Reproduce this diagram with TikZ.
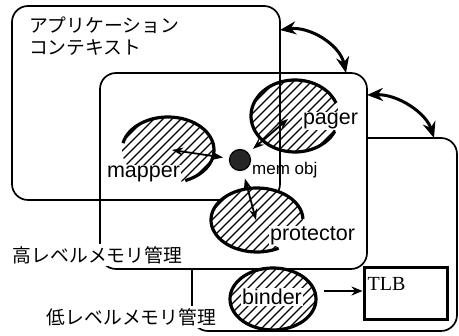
\documentclass[tikz,border=0pt]{standalone}
\usepackage{fontspec}
\setmainfont{Liberation Sans}
\newfontfamily\jpfont{Noto Sans CJK JP}
\newfontfamily\tlbfont{Liberation Serif}
\usetikzlibrary{arrows.meta}

% hatched interior of an elliptic module: centre, x radius, y radius
\newcommand\hatchblob[3]{%
  \begin{scope}
    \clip (#1) ellipse[x radius=#2, y radius=#3];
    \foreach \k in {-135,-126,...,135}
      \draw[hatchline] ([shift={(\k-70,70)}]#1) -- ([shift={(\k+70,-70)}]#1);
  \end{scope}}

\begin{document}
\begin{tikzpicture}[x=1pt,y=-1pt,
  frame/.style={draw, line width=1.7pt, rounded corners=16pt, inner sep=0pt, outer sep=0pt},
  blob/.style={line width=3.2pt},
  hatchline/.style={line width=1.2pt},
  link/.style={line width=1.8pt, {Stealth[length=11pt,width=8pt]}-{Stealth[length=11pt,width=8pt]}},
  swap/.style={line width=3pt, {Stealth[length=16pt,width=13pt]}-{Stealth[length=16pt,width=13pt]}},
  lbl/.style={font=\fontsize{21.5}{24}\selectfont, fill=white, inner sep=1pt},
  jp/.style={font=\jpfont\fontsize{18.8}{22}\selectfont},
]
\useasboundingbox (0,0) rectangle (459,336);

% the three nested contexts
\node[frame, fill=white, minimum width=265pt, minimum height=193pt] (ll) at (324.5,234.5) {};
\node[frame, fill=white, minimum width=267pt, minimum height=196pt] (hl) at (233.5,171) {};
\node[frame, minimum width=268pt, minimum height=194pt] (ctx) at (146,103) {};

% module centres
\coordinate (mapper) at (168,150);
\coordinate (pager) at (295,116);
\coordinate (protector) at (257,220);
\coordinate (binder) at (273,299);

% protector
\fill[white] (protector) ellipse[x radius=46, y radius=32];
\hatchblob{protector}{46}{32}
\draw[blob] (protector) ++(62:46 and 32) arc[start angle=62, end angle=358, x radius=46, y radius=32];

% binder
\fill[white] (binder) ellipse[x radius=43, y radius=31];
\hatchblob{binder}{43}{31}
\draw[blob] (binder) ellipse[x radius=43, y radius=31];

% mapper
\hatchblob{mapper}{46}{33}
\draw[blob] (mapper) ++(-168:46 and 33) arc[start angle=-168, end angle=68, x radius=46, y radius=33];

% pager
\hatchblob{pager}{44}{36}
\draw[blob] (pager) ++(25:44 and 36) arc[start angle=25, end angle=339, x radius=44, y radius=36];

% module names
\node[lbl, anchor=base] (mapL) at (143.5,178) {mapper};
\node[lbl, anchor=base] (pagL) at (330.5,124.5) {pager};
\node[lbl, anchor=base] (proL) at (312.5,241) {protector};
\node[lbl, anchor=base] (binL) at (272,305) {binder};

% context names
\node[jp, anchor=base west, inner sep=0pt] (ctxA) at (29,32.5) {アプリケーション};
\node[jp, anchor=base west, inner sep=0pt] (ctxB) at (29,55) {コンテキスト};
\node[jp, fill=white, inner sep=2.5pt] (hlL) at (97.5,255) {高レベルメモリ管理};
\node[jp, fill=white, inner sep=2.5pt] (llL) at (131.5,317) {低レベルメモリ管理};

% memory object and its links
\node[circle, draw, line width=1.2pt, fill=black!85, minimum size=21pt, inner sep=0pt] (mem) at (240,160) {};
\node[font=\fontsize{17}{19}\selectfont, anchor=base west, inner sep=0pt] (memL) at (252,174.5) {mem obj};
\coordinate (mapT) at (172,150);
\coordinate (pagT) at (288,119);
\coordinate (proT) at (256,220);
\draw[link, shorten <=6pt] (mem) -- (mapT);
\draw[link, shorten <=6pt] (mem) -- (pagT);
\draw[link, shorten <=8pt] (mem) -- (proT);

% TLB
\node[draw, line width=3pt, minimum width=83pt, minimum height=52pt, inner sep=0pt, outer sep=0pt] (tlb) at (406,293.5) {};
\node[font=\tlbfont\fontsize{20}{22}\selectfont, anchor=base west, inner sep=0pt] (tlbL) at (367.5,290.5) {TLB};
\coordinate (bout) at (324,291);
\draw[line width=2.2pt, -{Stealth[length=11pt,width=9pt]}, shorten >=2pt] (bout) -- (bout -| tlb.west);

% interactions between neighbouring contexts
\coordinate (s1) at (ctx.east |- 0,30);
\coordinate (s2) at (346,0 |- hl.north);
\coordinate (t1) at (hl.east |- 0,95);
\coordinate (t2) at (434,0 |- ll.north);
\draw[swap] (s1) .. controls (310,26) and (340,45) .. (s2);
\draw[swap] (t1) .. controls (398,94) and (426,113) .. (t2);
\end{tikzpicture}
\end{document}
